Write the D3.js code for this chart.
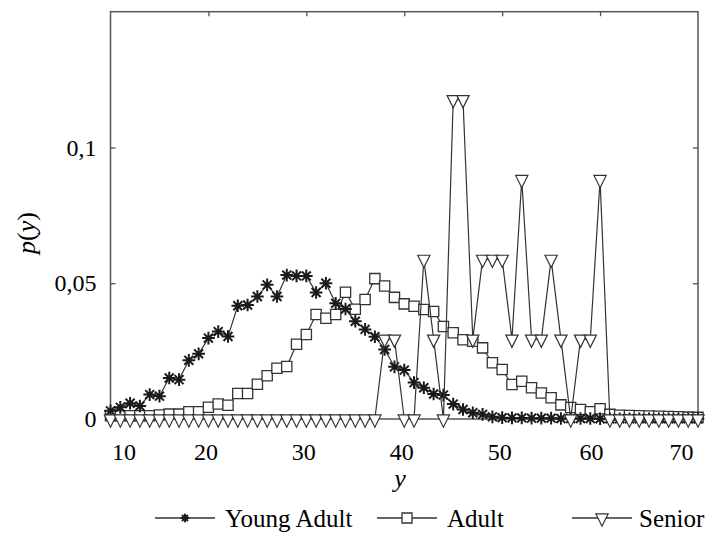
<!DOCTYPE html>
<html>
<head>
<meta charset="utf-8">
<script src="https://cdn.jsdelivr.net/npm/d3@7"></script>
<style>
  html, body { margin: 0; padding: 0; background: #fff; }
  svg { display: block; }
</style>
</head>
<body>
<div id="chart"></div>
<script>
// Age values (x axis)
const ages = [
  10, 11, 12, 13, 14, 15, 16, 17, 18, 19,
  20, 21, 22, 23, 24, 25, 26, 27, 28, 29,
  30, 31, 32, 33, 34, 35, 36, 37, 38, 39,
  40, 41, 42, 43, 44, 45, 46, 47, 48, 49,
  50, 51, 52, 53, 54, 55, 56, 57, 58, 59,
  60, 61, 62, 63, 64, 65, 66, 67, 68, 69,
  70
];

// p(y) for each group
const youngAdult = [
  0.0030, 0.0043, 0.0058, 0.0048, 0.0090, 0.0084, 0.0151, 0.0145, 0.0216, 0.0240,
  0.0298, 0.0322, 0.0304, 0.0417, 0.0420, 0.0451, 0.0494, 0.0451, 0.0530, 0.0527,
  0.0527, 0.0466, 0.0500, 0.0426, 0.0405, 0.0360, 0.0330, 0.0303, 0.0256, 0.0192,
  0.0180, 0.0134, 0.0115, 0.0092, 0.0088, 0.0055, 0.0035, 0.0023, 0.0017, 0.0008,
  0.0005, 0.0004, 0.0004, 0.0003, 0.0003, 0.0003, 0.0002, 0.0002, 0.0002, 0.0002,
  0.0001, 0.0001, 0.0001, 0.0001, 0.0001, 0.0001, 0.0001, 0.0001, 0.0001, 0.0001,
  0.0001
];

const adult = [
  0.0012, 0.0012, 0.0012, 0.0012, 0.0012, 0.0015, 0.0018, 0.0018, 0.0027, 0.0027,
  0.0043, 0.0055, 0.0051, 0.0094, 0.0094, 0.0128, 0.0159, 0.0187, 0.0193, 0.0275,
  0.0311, 0.0385, 0.0371, 0.0385, 0.0467, 0.0404, 0.0440, 0.0517, 0.0490, 0.0448,
  0.0424, 0.0415, 0.0403, 0.0396, 0.0341, 0.0318, 0.0292, 0.0286, 0.0262, 0.0207,
  0.0182, 0.0127, 0.0139, 0.0115, 0.0096, 0.0078, 0.0052, 0.0042, 0.0035, 0.0027,
  0.0038, 0.0017, 0.0014, 0.0013, 0.0012, 0.0011, 0.0010, 0.0009, 0.0008, 0.0007,
  0.0006
];

const senior = [
  0, 0, 0, 0, 0, 0, 0, 0, 0, 0,
  0, 0, 0, 0, 0, 0, 0, 0, 0, 0,
  0, 0, 0, 0, 0, 0, 0, 0, 0.0294, 0.0294,
  0, 0, 0.0588, 0.0294, 0, 0.1176, 0.1176, 0.0294, 0.0588, 0.0588,
  0.0588, 0.0294, 0.0882, 0.0294, 0.0294, 0.0588, 0.0294, 0, 0.0294, 0.0294,
  0.0882, 0, 0, 0, 0, 0, 0, 0, 0, 0,
  0
];

const seriesNames = ["Young Adult", "Adult", "Senior"];
const xTicks = [10, 20, 30, 40, 50, 60, 70];
const yTicks = [0, 0.05, 0.1];
const yTickLabels = ["0", "0,05", "0,1"];

const width = 705, height = 533;
const plot = { left: 110.5, right: 698, top: 11.7, bottom: 419 };
const serif = "Liberation Serif";

const x = d3.scaleLinear().domain([10, 70]).range([plot.left, plot.right]);
const y = d3.scaleLinear().domain([0, 0.15]).range([plot.bottom, plot.top]);

const svg = d3.select("#chart").append("svg")
  .attr("width", width)
  .attr("height", height);

const ink = "#333";

// custom marker shapes
const symbolAster = {
  draw(ctx, size) {
    const r = Math.sqrt(size) / 2;
    for (let k = 0; k < 4; k++) {
      const a = k * Math.PI / 4;
      ctx.moveTo(r * Math.cos(a), r * Math.sin(a));
      ctx.lineTo(-r * Math.cos(a), -r * Math.sin(a));
    }
  }
};
const symbolDown = {
  draw(ctx, size) {
    const w = Math.sqrt(size);
    ctx.moveTo(-w / 2, -w / 3);
    ctx.lineTo(w / 2, -w / 3);
    ctx.lineTo(0, 2 * w / 3);
    ctx.closePath();
  }
};

const styles = {
  "Young Adult": { type: symbolAster, size: 160, fill: "none", stroke: "#1a1a1a", sw: 2, legendSize: 70 },
  "Adult": { type: d3.symbolSquare, size: 105, fill: "#fff", stroke: ink, sw: 1.3, legendSize: 100 },
  "Senior": { type: symbolDown, size: 150, fill: "#fff", stroke: ink, sw: 1.2, legendSize: 150 }
};

// frame
svg.append("rect")
  .attr("x", plot.left).attr("y", plot.top)
  .attr("width", plot.right - plot.left).attr("height", plot.bottom - plot.top)
  .attr("fill", "none").attr("stroke", "#555").attr("stroke-width", 1.5);

// inner ticks on all four sides
const innerX = xTicks.slice(1, -1);
svg.append("g")
  .attr("transform", `translate(0,${plot.top})`)
  .call(d3.axisTop(x).tickValues(innerX).tickSize(-4.5).tickFormat(""))
  .call(g => g.select(".domain").remove());
svg.append("g")
  .attr("transform", `translate(${plot.right},0)`)
  .call(d3.axisRight(y).tickValues(yTicks.slice(1)).tickSize(-5).tickFormat(""))
  .call(g => g.select(".domain").remove());

const xAxis = svg.append("g")
  .attr("transform", `translate(0,${plot.bottom})`)
  .call(d3.axisBottom(x).tickValues(xTicks).tickSize(-4).tickPadding(24).tickFormat(d3.format("d")))
  .call(g => g.select(".domain").remove());
xAxis.selectAll(".tick line").filter(d => d === 10 || d === 70).remove();
xAxis.selectAll("text")
  .style("font-family", serif)
  .style("font-size", "24px")
  .attr("fill", "#000")
  .attr("text-anchor", d => d === 10 ? "start" : d === 70 ? "end" : "middle")
  .attr("dx", d => d === 10 ? 1 : d === 70 ? -5 : (d === 60 ? -9 : -3));

const yAxis = svg.append("g")
  .attr("transform", `translate(${plot.left},0)`)
  .call(d3.axisLeft(y).tickValues(yTicks).tickSize(-5).tickPadding(14)
    .tickFormat((d, i) => yTickLabels[i]))
  .call(g => g.select(".domain").remove());
yAxis.selectAll(".tick line").filter(d => d === 0).remove();
yAxis.selectAll("text")
  .style("font-family", serif)
  .style("font-size", "24px")
  .attr("fill", "#000");
svg.selectAll(".tick line").attr("stroke", "#555").attr("stroke-width", 1.3);

// axis titles
svg.append("text")
  .attr("x", 400).attr("y", 487)
  .attr("text-anchor", "middle")
  .style("font-family", serif)
  .style("font-size", "26px")
  .style("font-style", "italic")
  .text("y");

const yTitle = svg.append("text")
  .attr("transform", "translate(35,233) rotate(-90)")
  .attr("text-anchor", "middle")
  .style("font-family", serif)
  .style("font-size", "26px");
yTitle.append("tspan").style("font-style", "italic").text("p");
yTitle.append("tspan").text("(");
yTitle.append("tspan").style("font-style", "italic").text("y");
yTitle.append("tspan").text(")");

// series
const seriesData = {
  "Young Adult": ages.map((a, i) => ({ age: a, p: youngAdult[i] })),
  "Adult": ages.map((a, i) => ({ age: a, p: adult[i] })),
  "Senior": ages.map((a, i) => ({ age: a, p: senior[i] }))
};

const line = d3.line().x(d => x(d.age)).y(d => y(d.p));
const drawOrder = ["Adult", "Young Adult", "Senior"];

drawOrder.forEach(name => {
  const st = styles[name];
  const g = svg.append("g");
  g.append("path")
    .datum(seriesData[name])
    .attr("d", line)
    .attr("fill", "none")
    .attr("stroke", ink)
    .attr("stroke-width", 1.2);
  g.selectAll("path.marker")
    .data(seriesData[name])
    .join("path")
    .attr("class", "marker")
    .attr("transform", d => `translate(${x(d.age)},${y(d.p)})`)
    .attr("d", d3.symbol().type(st.type).size(st.size))
    .attr("fill", st.fill)
    .attr("stroke", st.stroke)
    .attr("stroke-width", st.sw);
});

// legend
const legendX = [155, 377, 572];
const legend = svg.append("g");
seriesNames.forEach((name, i) => {
  const st = styles[name];
  const lx = legendX[i];
  const item = legend.append("g").attr("transform", `translate(${lx},518)`);
  item.append("line")
    .attr("x1", 0).attr("x2", 60).attr("y1", 0).attr("y2", 0)
    .attr("stroke", ink).attr("stroke-width", 1.3);
  item.append("path")
    .attr("transform", "translate(30,0)")
    .attr("d", d3.symbol().type(st.type).size(st.legendSize))
    .attr("fill", st.fill)
    .attr("stroke", st.stroke)
    .attr("stroke-width", st.sw);
  item.append("text")
    .attr("x", i === 2 ? 67 : 70)
    .attr("y", 9)
    .style("font-family", serif)
    .style("font-size", "25px")
    .attr("fill", "#000")
    .text(name);
});
</script>
</body>
</html>
